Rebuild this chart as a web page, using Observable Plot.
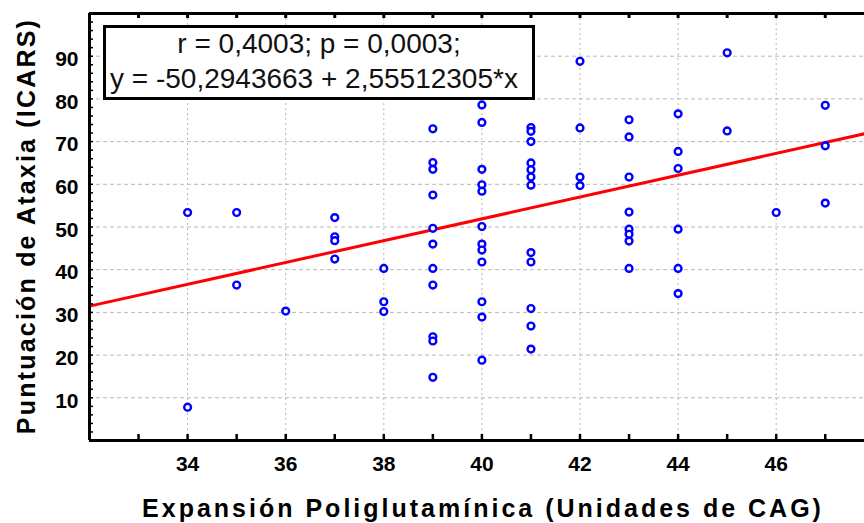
<!DOCTYPE html>
<html>
<head>
<meta charset="utf-8">
<script src="https://cdn.jsdelivr.net/npm/d3@7"></script>
<script src="https://cdn.jsdelivr.net/npm/@observablehq/plot@0.6"></script>
<style>
  body { margin: 0; background: #fff; }
  #wrap { position: relative; width: 864px; height: 523px; overflow: hidden; background: #fff; }
  #box {
    position: absolute; left: 103px; top: 25px; width: 432px; height: 75px;
    box-sizing: border-box; border: 3px solid #000; background: #fff;
    font-family: "Liberation Sans", Arial, sans-serif; font-size: 28px; color: #111;
  }
  #box .l1 { position: absolute; left: 0; right: 0; top: 2px; text-align: center; line-height: 28px; white-space: pre; }
  #box .l2 { position: absolute; left: 4px; top: 37px; line-height: 28px; white-space: pre; }
  g[aria-label="x-axis tick label"] text, g[aria-label="y-axis tick label"] text { font-weight: bold; }
</style>
</head>
<body>
<div id="wrap"></div>
<script>
// Data
const cagValues = [
  34, 34,
  35, 35,
  36,
  37, 37, 37, 37,
  38, 38, 38,
  39, 39, 39, 39, 39, 39, 39, 39, 39, 39, 39,
  40, 40, 40, 40, 40, 40, 40, 40, 40, 40, 40, 40,
  41, 41, 41, 41, 41, 41, 41, 41, 41, 41, 41, 41,
  42, 42, 42, 42,
  43, 43, 43, 43, 43, 43, 43, 43,
  44, 44, 44, 44, 44, 44,
  45, 45,
  46,
  47, 47, 47
];
const icarsScores = [
  53.4, 7.8,
  53.4, 36.4,
  30.3,
  52.2, 47.7, 46.8, 42.5,
  40.3, 32.5, 30.2,
  73.0, 65.1, 63.5, 57.5, 49.7, 46.0, 40.3, 36.4, 24.3, 23.3, 14.8,
  78.6, 74.5, 63.5, 59.9, 58.4, 50.1, 46.0, 44.6, 41.8, 32.5, 28.9, 18.8,
  73.3, 72.4, 70.0, 65.0, 63.4, 61.7, 59.8, 44.0, 41.8, 30.9, 26.8, 21.4,
  88.8, 73.2, 61.7, 59.7,
  75.1, 71.1, 61.7, 53.5, 49.5, 48.3, 46.7, 40.3,
  76.5, 67.7, 63.7, 49.5, 40.3, 34.4,
  90.8, 72.5,
  53.4,
  78.5, 69.0, 55.6
];
const xTickLabels = [34, 36, 38, 40, 42, 44, 46];
const yTickLabels = [10, 20, 30, 40, 50, 60, 70, 80, 90];
const xMinorTicks = [32, 33, 34, 35, 36, 37, 38, 39, 40, 41, 42, 43, 44, 45, 46, 47];
const yMinorTicks = d3.range(2, 100, 2);
const xDomain = [32, 47.8];
const yDomain = [0, 100];
const intercept = -50.2943663;
const slope = 2.55512305;
const xTitle = "Expansión Poliglutamínica (Unidades de CAG)";
const yTitle = "Puntuación de Ataxia (ICARS)";
const statLine1 = "r = 0,4003; p = 0,0003;";
const statLine2 = "y = -50,2943663 + 2,55512305*x";

const data = cagValues.map((c, i) => ({cag: c, icars: icarsScores[i]}));
const fit = xDomain.map(x => ({x, y: intercept + slope * x}));

const plot = Plot.plot({
  width: 864,
  height: 523,
  marginLeft: 89,
  marginRight: 0,
  marginTop: 13,
  marginBottom: 83,
  style: {fontFamily: '"Liberation Sans", Arial, sans-serif', background: "#fff", overflow: "visible"},
  x: {domain: xDomain},
  y: {domain: yDomain},
  marks: [
    Plot.gridY(yTickLabels, {stroke: "#b8b8b8", strokeOpacity: 1, strokeDasharray: "4,3"}),
    Plot.gridX(xTickLabels, {stroke: "#b8b8b8", strokeOpacity: 1, strokeDasharray: "2,3"}),
    Plot.line(fit, {x: "x", y: "y", stroke: "#ff0000", strokeWidth: 3}),
    Plot.dot(data, {x: "cag", y: "icars", r: 3.4, stroke: "#0000ff", strokeWidth: 2.4, fill: "white"}),
    Plot.ruleX([xDomain[0]], {stroke: "#000", strokeWidth: 3}),
    Plot.ruleY([yDomain[0]], {stroke: "#000", strokeWidth: 3}),
    Plot.ruleY([yDomain[1]], {stroke: "#000", strokeWidth: 3}),
    Plot.tickX(xMinorTicks, {x: d => d, insetTop: 421, stroke: "#000", strokeWidth: 2.5}),
    Plot.tickX(xMinorTicks, {x: d => d, insetBottom: 422, stroke: "#000", strokeWidth: 3}),
    Plot.tickY(yMinorTicks, {y: d => d, insetRight: 771, stroke: "#000", strokeWidth: 1.5}),
    Plot.axisX(xTickLabels, {tickSize: 0, tickPadding: 16, fontSize: 21, fontWeight: "bold", label: null, fill: "#000"}),
    Plot.axisY(yTickLabels, {tickSize: 0, tickPadding: 11, fontSize: 21, fontWeight: "bold", label: null, fill: "#000", dy: 3}),
    Plot.text([xTitle], {text: d => d, frameAnchor: "bottom", textAnchor: "middle", lineAnchor: "middle", dx: 6, dy: 68, fontSize: 25, fontWeight: "bold", fill: "#000"}),
    Plot.text([yTitle], {text: d => d, frameAnchor: "left", textAnchor: "middle", lineAnchor: "middle", dx: -63, dy: -1, rotate: -90, fontSize: 25, fontWeight: "bold", fill: "#000"})
  ]
});

const wrap = document.getElementById("wrap");
wrap.appendChild(plot);
plot.querySelectorAll("text").forEach(t => {
  if (t.textContent === xTitle) t.style.letterSpacing = "3px";
  if (t.textContent === yTitle) t.style.letterSpacing = "2.2px";
});
const box = document.createElement("div");
box.id = "box";
const l1 = document.createElement("div"); l1.className = "l1"; l1.textContent = statLine1;
const l2 = document.createElement("div"); l2.className = "l2"; l2.textContent = statLine2;
box.appendChild(l1); box.appendChild(l2);
wrap.appendChild(box);
</script>
</body>
</html>
